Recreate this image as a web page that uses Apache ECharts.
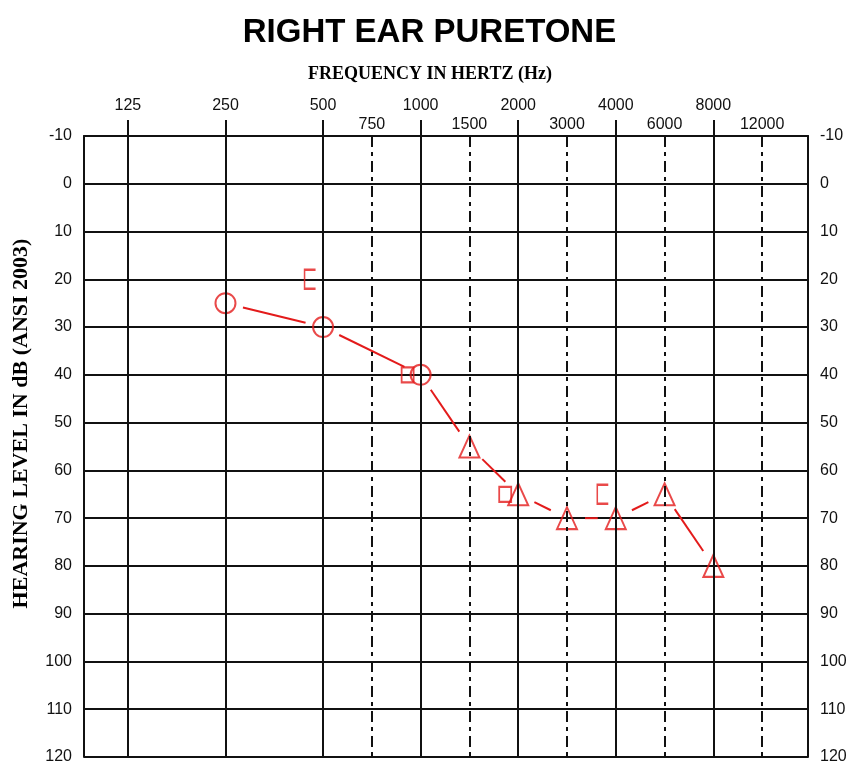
<!DOCTYPE html>
<html>
<head>
<meta charset="utf-8">
<title>Right Ear Puretone</title>
<script src="https://cdn.jsdelivr.net/npm/echarts@6/dist/echarts.min.js"></script>
<style>
  html, body { margin: 0; padding: 0; background: #fff; }
  #app { width: 859px; height: 769px; }
</style>
</head>
<body>
<div id="app"></div>
<script>
// top axis, two rows of frequencies
const octaveFreqs = [125, 250, 500, 1000, 2000, 4000, 8000];
const midFreqs = [750, 1500, 3000, 6000, 12000];
// hearing level ticks (dB)
const dbLevels = [-10, 0, 10, 20, 30, 40, 50, 60, 70, 80, 90, 100, 110, 120];

// air conduction, unmasked (O)
const acFreqs = [250, 500, 1000];
const acLevels = [25, 30, 40];
// air conduction, masked (triangle)
const acMaskedFreqs = [1500, 2000, 3000, 4000, 6000, 8000];
const acMaskedLevels = [55, 65, 70, 70, 65, 80];
// bone conduction, masked ([)
const bcMaskedFreqs = [500, 4000];
const bcMaskedLevels = [20, 65];
// squares
const sqFreqs = [1000, 2000];
const sqLevels = [40, 65];

const RED = '#e31b1b';
const INK = '#111';

// audiogram spacing: octaves from 125 Hz, in-between frequencies sit halfway
const octavePos = f => {
  const o = Math.log2(f / 125);
  return Math.abs(o - Math.round(o)) < 1e-6 ? Math.round(o) : Math.floor(o) + 0.5;
};

const labelAt = {};
octaveFreqs.concat(midFreqs).forEach(f => { labelAt[octavePos(f)] = String(f); });

const toPoints = (fs, ls) => fs.map((f, i) => [octavePos(f), ls[i]]);

// connector runs through all air conduction points in order
const acAll = toPoints(acFreqs, acLevels).concat(toPoints(acMaskedFreqs, acMaskedLevels));
const segments = acAll.slice(1).map((p, i) => [acAll[i][0], acAll[i][1], p[0], p[1]]);

const GAP = 18;

const chart = echarts.init(document.getElementById('app'));

const labelFont = { color: INK, fontSize: 16, fontFamily: 'Liberation Sans, Arial, sans-serif' };

chart.setOption({
  animation: false,
  title: {
    text: 'RIGHT EAR PURETONE',
    left: 'center',
    top: 11,
    textStyle: { color: '#000', fontSize: 33, fontWeight: 'bold', fontFamily: 'Liberation Sans, Arial, sans-serif' }
  },
  grid: { left: 84, right: 51, top: 136, bottom: 12 },
  xAxis: [
    {
      type: 'value',
      position: 'top',
      min: -0.45,
      max: 6.97,
      name: 'FREQUENCY IN HERTZ (Hz)',
      nameLocation: 'middle',
      nameGap: 53,
      nameTextStyle: {
        color: '#000', fontSize: 18, fontWeight: 'bold',
        fontFamily: 'Liberation Serif, serif', padding: [0, 32, 0, 0]
      },
      axisLine: { show: true, onZero: false, lineStyle: { color: INK, width: 2 } },
      axisTick: { show: true, length: 16, lineStyle: { color: INK, width: 2 }, customValues: octaveFreqs.map(octavePos) },
      axisLabel: Object.assign({ margin: 22, customValues: octaveFreqs.map(octavePos), formatter: v => labelAt[v] }, labelFont),
      splitLine: { show: false }
    },
    {
      type: 'value',
      position: 'top',
      min: -0.45,
      max: 6.97,
      axisLine: { show: false },
      axisTick: { show: false },
      axisLabel: Object.assign({ margin: 3, customValues: midFreqs.map(octavePos), formatter: v => labelAt[v] }, labelFont),
      splitLine: { show: false }
    }
  ],
  yAxis: [
    {
      type: 'value',
      inverse: true,
      min: dbLevels[0],
      max: dbLevels[dbLevels.length - 1],
      interval: 10,
      name: 'HEARING LEVEL IN dB (ANSI 2003)',
      nameLocation: 'middle',
      nameRotate: 90,
      nameGap: 52,
      nameTextStyle: {
        color: '#000', fontSize: 22, fontWeight: 'bold',
        fontFamily: 'Liberation Serif, serif', padding: [0, 0, 0, 46]
      },
      axisLine: { show: true, onZero: false, lineStyle: { color: INK, width: 2 } },
      axisTick: { show: false },
      axisLabel: Object.assign({ margin: 12 }, labelFont),
      splitLine: { show: true, lineStyle: { color: INK, width: 2 } }
    },
    {
      type: 'value',
      position: 'right',
      inverse: true,
      min: dbLevels[0],
      max: dbLevels[dbLevels.length - 1],
      interval: 10,
      axisLine: { show: true, onZero: false, lineStyle: { color: INK, width: 2 } },
      axisTick: { show: false },
      axisLabel: Object.assign({ margin: 12 }, labelFont),
      splitLine: { show: false }
    }
  ],
  series: [
    {
      name: 'octave lines',
      type: 'scatter',
      data: [],
      z: 1,
      markLine: {
        silent: true,
        symbol: 'none',
        label: { show: false },
        lineStyle: { color: INK, width: 2, type: 'solid' },
        data: octaveFreqs.map(f => ({ xAxis: octavePos(f) }))
      }
    },
    {
      name: 'mid-octave lines',
      type: 'scatter',
      data: [],
      z: 1,
      markLine: {
        silent: true,
        symbol: 'none',
        label: { show: false },
        lineStyle: { color: INK, width: 2, type: [11, 5, 4, 5] },
        data: midFreqs.map(f => ({ xAxis: octavePos(f) }))
      }
    },
    {
      name: 'AC connector',
      type: 'custom',
      z: 3,
      encode: { x: [0, 2], y: [1, 3] },
      data: segments,
      renderItem: (params, api) => {
        const a = api.coord([api.value(0), api.value(1)]);
        const b = api.coord([api.value(2), api.value(3)]);
        const dx = b[0] - a[0], dy = b[1] - a[1];
        const len = Math.sqrt(dx * dx + dy * dy);
        const ux = dx / len, uy = dy / len;
        return {
          type: 'line',
          shape: { x1: a[0] + ux * GAP, y1: a[1] + uy * GAP, x2: b[0] - ux * GAP, y2: b[1] - uy * GAP },
          style: { stroke: RED, lineWidth: 2 }
        };
      }
    },
    {
      name: 'AC unmasked',
      type: 'scatter',
      z: 4,
      symbol: 'circle',
      symbolSize: 20,
      itemStyle: { color: 'transparent', borderColor: RED, borderWidth: 2 },
      data: toPoints(acFreqs, acLevels)
    },
    {
      name: 'AC masked',
      type: 'scatter',
      z: 4,
      symbol: 'triangle',
      symbolSize: [20, 22],
      itemStyle: { color: 'transparent', borderColor: RED, borderWidth: 2 },
      data: toPoints(acMaskedFreqs, acMaskedLevels)
    },
    {
      name: 'BC masked',
      type: 'scatter',
      z: 4,
      symbol: 'path://M12,0 L0,0 L0,20 L12,20',
      symbolSize: [11, 19],
      symbolOffset: [-13, 0],
      itemStyle: { color: 'transparent', borderColor: RED, borderWidth: 2 },
      data: toPoints(bcMaskedFreqs, bcMaskedLevels)
    },
    {
      name: 'Square',
      type: 'scatter',
      z: 4,
      symbol: 'rect',
      symbolSize: [12, 15],
      symbolOffset: [-13, 0],
      itemStyle: { color: 'transparent', borderColor: RED, borderWidth: 2 },
      data: toPoints(sqFreqs, sqLevels)
    }
  ]
});
</script>
</body>
</html>
